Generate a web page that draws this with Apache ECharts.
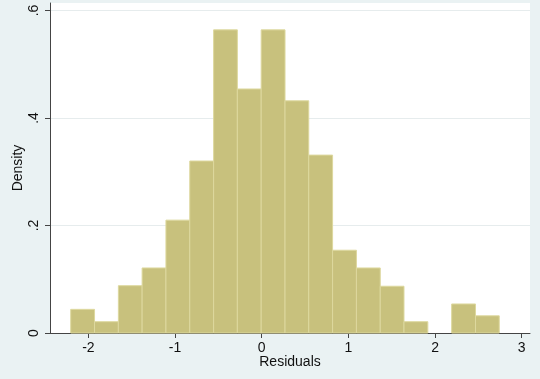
<!DOCTYPE html>
<html>
<head>
<meta charset="utf-8">
<script src="https://cdn.jsdelivr.net/npm/echarts@6/dist/echarts.min.js"></script>
<style>
html,body{margin:0;padding:0;background:#eaf2f3;}
#c{width:540px;height:379px;}
</style>
</head>
<body>
<div id="c"></div>
<script>
// Histogram bins (left edges), bin right edges, and density heights
var binLeft  = [-2.204, -1.929, -1.654, -1.380, -1.105, -0.830, -0.555, -0.281, -0.006, 0.269, 0.543, 0.818, 1.093, 1.368, 1.642, 1.917, 2.192, 2.467];
var binRight = [-1.929, -1.654, -1.380, -1.105, -0.830, -0.555, -0.281, -0.006, 0.269, 0.543, 0.818, 1.093, 1.368, 1.642, 1.917, 2.192, 2.467, 2.741];
var density  = [0.044, 0.021, 0.088, 0.121, 0.210, 0.320, 0.564, 0.454, 0.564, 0.432, 0.331, 0.154, 0.121, 0.087, 0.021, 0, 0.054, 0.032];
var xTicks = [-2, -1, 0, 1, 2, 3];
var yTicks = [0, 0.2, 0.4, 0.6];
var yTickLabels = ['0', '.2', '.4', '.6'];

var data = density.map(function (d, i) { return [binLeft[i], binRight[i], d]; });

var chart = echarts.init(document.getElementById('c'), null, {renderer: 'canvas'});
var font = 'Liberation Sans, Arial, sans-serif';
chart.setOption({
  backgroundColor: '#eaf2f3',
  animation: false,
  grid: {left: 50, right: 10, top: 3, bottom: 46, show: true, backgroundColor: '#ffffff', borderWidth: 0},
  xAxis: {
    type: 'value', min: -2.443, max: 3.096,
    name: 'Residuals', nameLocation: 'middle', nameGap: 22, nameMoveOverlap: false,
    nameTextStyle: {fontFamily: font, fontSize: 14, color: '#111'},
    axisLine: {show: true, onZero: false, lineStyle: {color: '#444', width: 1}},
    axisTick: {show: true, length: 5, customValues: xTicks, lineStyle: {color: '#444'}},
    axisLabel: {customValues: xTicks, margin: 8, fontFamily: font, fontSize: 14, color: '#111',
      formatter: function (v) { return String(v); }},
    splitLine: {show: false}
  },
  yAxis: {
    type: 'value', min: 0, max: 0.614,
    name: 'Density', nameLocation: 'middle', nameGap: 25, nameRotate: 90, nameMoveOverlap: false,
    nameTextStyle: {fontFamily: font, fontSize: 14, color: '#111'},
    axisLine: {show: true, onZero: false, lineStyle: {color: '#444', width: 1}},
    axisTick: {show: true, length: 5, customValues: yTicks, lineStyle: {color: '#444'}},
    axisLabel: {customValues: yTicks, rotate: 90, margin: 9, fontFamily: font, fontSize: 14, color: '#111',
      formatter: function (v) { var i = yTicks.indexOf(Math.round(v * 10) / 10); return i >= 0 ? yTickLabels[i] : ''; }},
    splitLine: {show: true, lineStyle: {color: '#e6eced', width: 1}}
  },
  series: [{
    type: 'custom',
    data: data,
    encode: {x: [0, 1], y: 2},
    renderItem: function (params, api) {
      if (!(api.value(2) > 0)) { return null; }
      var p0 = api.coord([api.value(0), api.value(2)]);
      var p1 = api.coord([api.value(1), 0]);
      return {
        type: 'rect',
        shape: {x: p0[0], y: p0[1], width: p1[0] - p0[0], height: p1[1] - p0[1]},
        style: {fill: '#c8c17d', stroke: '#ddd89e', lineWidth: 1}
      };
    }
  }]
});
</script>
</body>
</html>
